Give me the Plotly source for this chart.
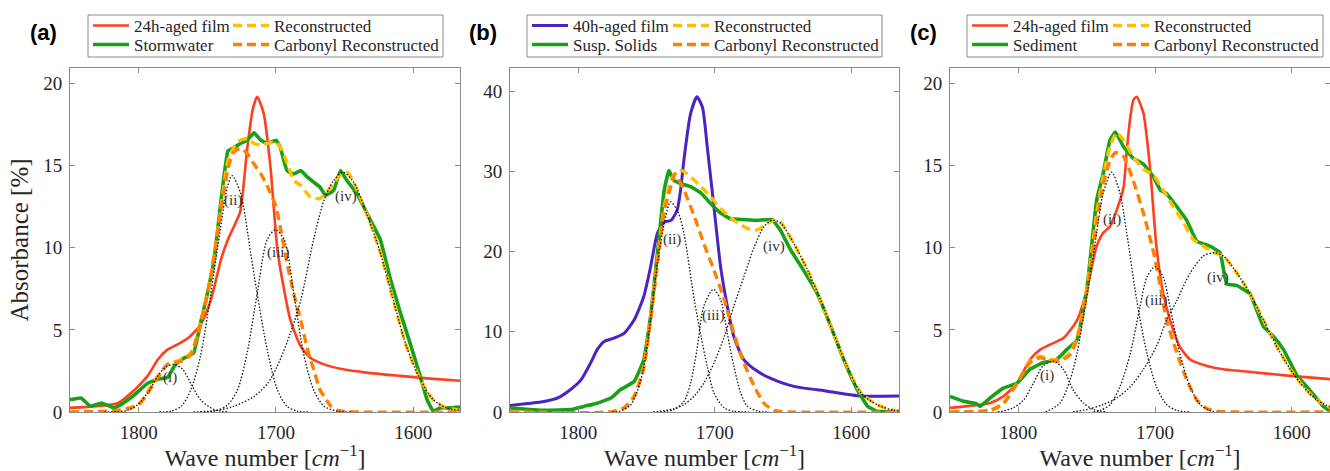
import plotly.graph_objects as go

# ---------------- data ----------------
# Panel (a): 24h-aged film vs Stormwater
a_film_x = [1850, 1815, 1803, 1793.5, 1786, 1779, 1772, 1764, 1755, 1747.5, 1740, 1735, 1730.6, 1726, 1721, 1717, 1713.7, 1709, 1704, 1699, 1694, 1689.5, 1682, 1675, 1665, 1651, 1634, 1609.5, 1590, 1566]
a_film_y = [0.25, 0.55, 1.35, 2.2, 3.2, 3.8, 4.1, 4.5, 5.3, 6.8, 9.3, 10.5, 11.3, 12.2, 16.0, 18.4, 19.2, 18.2, 14.9, 9.9, 7.4, 5.6, 4.0, 3.3, 2.9, 2.6, 2.4, 2.2, 2.05, 1.9]
a_sample_x = [1850, 1842, 1835, 1827, 1818, 1813, 1803, 1793.5, 1786, 1779, 1774, 1769, 1760, 1755, 1750, 1745, 1740, 1735, 1730.6, 1726, 1721, 1716, 1711, 1706, 1700, 1697, 1692, 1687, 1682, 1677, 1672.6, 1668, 1664, 1658, 1653, 1648.4, 1641, 1631.4, 1624, 1617, 1610, 1602.4, 1595, 1590, 1585.5, 1580.6, 1573, 1566]
a_sample_y = [0.75, 0.85, 0.35, 0.55, 0.25, 0.45, 1.05, 1.75, 2.0, 2.1, 2.8, 3.2, 3.6, 5.4, 7.2, 9.3, 12.9, 15.9, 16.1, 16.35, 16.55, 17.0, 16.55, 16.35, 16.55, 16.15, 14.7, 14.5, 14.7, 14.3, 14.0, 13.7, 13.2, 13.5, 14.7, 14.1, 13.3, 11.7, 10.5, 8.2, 6.2, 4.2, 2.2, 0.75, 0.05, 0.25, 0.25, 0.3]
a_recon_x = [1850, 1815, 1800, 1793, 1786, 1779, 1769, 1762, 1755, 1747.6, 1740, 1735, 1730.6, 1726, 1721, 1716, 1711, 1706.4, 1700, 1697, 1692, 1687, 1682, 1675, 1668, 1660, 1653.4, 1648, 1643.5, 1634, 1624, 1614.5, 1605, 1595, 1585.5, 1576, 1566]
a_recon_y = [0, 0.1, 0.45, 1.3, 2.2, 2.9, 3.2, 3.6, 5.4, 8.2, 12.5, 15.3, 16.15, 16.55, 16.65, 16.35, 16.25, 16.35, 16.45, 16.15, 15.2, 14.1, 13.8, 13.1, 13.0, 13.7, 14.4, 14.6, 14.0, 12.1, 9.7, 6.8, 4.0, 2.0, 0.75, 0.25, 0.1]
a_carb_x = [1850, 1815, 1800, 1786, 1779, 1769, 1762, 1755, 1748, 1740, 1735, 1731, 1726, 1721, 1716, 1711, 1706, 1700, 1697, 1692, 1687, 1682, 1677, 1672.6, 1668, 1665, 1660, 1655, 1640, 1566]
a_carb_y = [0, 0.1, 0.45, 2.1, 2.9, 3.1, 3.5, 5.3, 8.0, 12.3, 14.8, 15.8, 16.05, 15.75, 15.1, 14.5, 13.7, 12.5, 11.3, 9.1, 7.2, 5.6, 3.8, 2.6, 1.35, 0.95, 0.35, 0.1, 0, 0]
a_g1_x = [1825, 1808, 1800.7, 1793.5, 1786, 1780, 1774, 1768, 1762, 1755, 1745, 1735]
a_g1_y = [0, 0.1, 0.45, 1.15, 2.2, 2.75, 2.9, 2.6, 1.75, 0.75, 0.15, 0]
a_g2_x = [1785, 1776.5, 1769, 1762, 1755, 1750, 1742.7, 1735.4, 1732, 1725.7, 1718.5, 1713.7, 1706.4, 1699, 1692, 1684.6, 1675]
a_g2_y = [0, 0.05, 0.35, 1.35, 3.4, 5.8, 9.9, 13.7, 14.4, 13.3, 9.7, 7.2, 3.8, 1.35, 0.35, 0.05, 0]
a_g3_x = [1755, 1742.7, 1735, 1728, 1721, 1713.7, 1706.4, 1700.4, 1694, 1687, 1680, 1672.6, 1665, 1655, 1645]
a_g3_y = [0, 0.1, 0.45, 1.35, 3.6, 7.2, 10.5, 11.1, 10.5, 7.2, 3.6, 1.35, 0.35, 0.05, 0]
a_g4_x = [1760, 1742.7, 1730.6, 1716, 1706, 1699, 1689.5, 1682, 1672.6, 1665, 1658, 1651, 1643.5, 1634, 1624, 1614.5, 1605, 1595, 1585.5, 1576, 1566]
a_g4_y = [0, 0.1, 0.35, 0.95, 1.75, 2.8, 4.8, 6.8, 10.5, 12.9, 14.1, 14.6, 14.0, 12.1, 9.7, 6.8, 4.0, 2.0, 0.75, 0.25, 0.1]

# Panel (b): 40h-aged film vs Suspended Solids
b_film_x = [1850, 1837, 1825, 1815, 1805.6, 1798, 1791, 1786, 1781, 1774, 1766.5, 1759, 1752, 1747, 1742, 1737, 1732, 1727.5, 1725, 1722.6, 1717.7, 1713, 1709, 1705.5, 1700.6, 1695.7, 1690.8, 1686, 1678.6, 1669, 1659, 1642, 1617.6, 1593, 1565]
b_film_y = [0.8, 1.05, 1.3, 1.75, 2.8, 4.0, 6.1, 7.8, 8.8, 9.2, 9.8, 11.5, 14.4, 18.1, 22.3, 23.7, 23.9, 25.2, 27.7, 31.4, 37.2, 39.3, 38.0, 33.1, 25.6, 18.1, 13.2, 9.4, 6.5, 5.1, 4.2, 3.2, 2.6, 2.0, 2.0]
b_sample_x = [1850, 1825, 1805.6, 1796, 1786, 1776, 1769, 1759, 1752, 1747, 1742, 1737, 1733.6, 1730, 1725, 1717.7, 1710, 1703, 1695.7, 1688.4, 1678.6, 1669, 1658, 1652, 1644.4, 1635, 1625, 1615, 1605.4, 1595.6, 1588, 1581, 1565]
b_sample_y = [0.5, 0.2, 0.3, 0.7, 1.1, 1.75, 2.8, 3.8, 6.5, 11.9, 19.8, 27.7, 30.1, 28.9, 28.5, 28.1, 27.3, 26.0, 24.8, 24.1, 24.0, 23.9, 24.0, 22.7, 20.2, 17.7, 14.8, 10.7, 6.5, 2.8, 0.7, 0.1, 0.05]
b_recon_x = [1850, 1776, 1766.5, 1759, 1752, 1747, 1742, 1737, 1732, 1727.5, 1722.6, 1715, 1705.5, 1695.7, 1686, 1676, 1669, 1661.5, 1656.7, 1652, 1642, 1632, 1622.5, 1613, 1603, 1593, 1581, 1569, 1565]
b_recon_y = [0, 0, 0.5, 1.95, 5.7, 11.9, 19.0, 25.6, 28.9, 30.1, 30.0, 28.9, 27.3, 25.4, 23.9, 22.9, 22.7, 23.5, 23.9, 23.7, 21.0, 17.7, 14.0, 9.8, 5.7, 2.4, 0.9, 0.2, 0.1]
b_carb_x = [1850, 1776, 1766.5, 1759, 1752, 1747, 1742, 1737, 1732, 1729, 1722.6, 1715, 1708, 1700.6, 1693, 1686, 1678.6, 1671, 1664, 1656.7, 1645, 1565]
b_carb_y = [0, 0, 0.5, 1.95, 5.5, 11.5, 18.5, 25.0, 28.2, 29.7, 27.7, 24.4, 21.0, 17.7, 14.0, 9.8, 6.1, 3.2, 1.1, 0.2, 0, 0]
b_g2_x = [1775, 1770, 1762, 1757, 1752, 1747, 1742, 1737, 1732.4, 1727, 1722.6, 1715, 1710, 1705.5, 1700.6, 1693, 1686, 1675]
b_g2_y = [0, 0.1, 0.8, 2.5, 5.5, 11.5, 18.5, 23.5, 26.2, 25.0, 22.3, 14.0, 9.4, 5.7, 2.4, 0.5, 0.1, 0]
b_g3_x = [1740, 1730, 1722.6, 1717.7, 1713, 1708, 1701, 1695.7, 1690.8, 1686, 1681, 1676, 1668, 1660]
b_g3_y = [0, 0.3, 1.3, 3.6, 7.8, 13.2, 15.3, 14.0, 9.8, 5.7, 2.4, 0.7, 0.1, 0]
b_g4_x = [1745, 1740, 1730, 1722.6, 1715, 1708, 1700.6, 1693, 1686, 1678.6, 1671, 1664, 1658, 1652, 1642, 1632, 1622.5, 1613, 1603, 1593, 1581, 1569, 1565]
b_g4_y = [0, 0.1, 0.4, 0.9, 2.0, 3.6, 6.1, 9.4, 13.2, 16.9, 20.6, 23.1, 23.9, 23.6, 21.0, 17.7, 14.0, 9.8, 5.7, 2.4, 0.9, 0.2, 0.1]

# Panel (c): 24h-aged film vs Sediment
c_film_x = [1850, 1820.7, 1811, 1801, 1791.5, 1784, 1777, 1767, 1757, 1750, 1742.7, 1738, 1733, 1728, 1723, 1720.7, 1718, 1715.8, 1713.4, 1708.5, 1703.7, 1699, 1694, 1689, 1682, 1674.4, 1662, 1650, 1625.6, 1601, 1572]
c_film_y = [0.25, 0.55, 0.95, 1.75, 3.2, 3.8, 4.1, 4.5, 5.6, 7.4, 10.1, 10.9, 11.3, 12.3, 13.7, 15.9, 18.0, 19.0, 19.2, 18.2, 14.9, 10.1, 7.2, 5.6, 4.0, 3.2, 2.8, 2.6, 2.4, 2.2, 2.0]
c_sample_x = [1850, 1840, 1830.5, 1828, 1820.7, 1811, 1801, 1791.5, 1782, 1772, 1764.6, 1757, 1750, 1742.7, 1738, 1733, 1729, 1723, 1716, 1708.5, 1701, 1696, 1691.5, 1684, 1677, 1669.5, 1659.8, 1652.4, 1647.6, 1640, 1630.5, 1620.7, 1613.4, 1606, 1596, 1587, 1577, 1572]
c_sample_y = [0.95, 0.65, 0.5, 0.35, 0.85, 1.45, 1.75, 2.6, 3.0, 3.2, 3.8, 4.4, 7.4, 12.9, 14.5, 16.55, 17.05, 16.15, 15.45, 15.1, 14.3, 13.5, 13.3, 12.5, 11.7, 10.4, 10.1, 9.7, 7.8, 7.7, 7.2, 5.2, 4.6, 3.8, 2.2, 1.35, 0.35, 0.05]
c_recon_x = [1850, 1820.7, 1811, 1801, 1791.5, 1784, 1777, 1769.5, 1762, 1755, 1747.6, 1742.7, 1738, 1733, 1728, 1723, 1716, 1708.5, 1701, 1694, 1686.6, 1679, 1672, 1664.6, 1657, 1650, 1640, 1630.5, 1620.7, 1611, 1601, 1591.5, 1582, 1572]
c_recon_y = [0, 0.1, 0.55, 1.75, 3.1, 3.4, 3.2, 3.2, 3.6, 5.2, 8.9, 12.1, 14.3, 16.15, 17.0, 16.55, 15.55, 14.8, 14.4, 13.5, 12.5, 11.5, 10.5, 10.1, 9.7, 9.5, 8.45, 7.2, 5.6, 4.0, 2.6, 1.55, 0.75, 0.3]
c_carb_x = [1850, 1820.7, 1811, 1801, 1791.5, 1784, 1777, 1769.5, 1762, 1755, 1747.6, 1742.7, 1738, 1733, 1729, 1723, 1716, 1708.5, 1701, 1696, 1691.5, 1684, 1677, 1669.5, 1662, 1655, 1640, 1572]
c_carb_y = [0, 0.1, 0.5, 1.75, 3.0, 3.3, 3.15, 3.1, 3.5, 5.0, 8.5, 11.5, 13.8, 15.3, 15.8, 15.55, 14.1, 12.1, 9.7, 7.6, 5.6, 3.6, 2.0, 0.75, 0.2, 0.05, 0, 0]
c_g1_x = [1815, 1803.7, 1796, 1789, 1782, 1774.4, 1767, 1760, 1752.4, 1745, 1735]
c_g1_y = [0, 0.25, 0.75, 1.75, 2.8, 3.1, 2.6, 1.35, 0.55, 0.15, 0]
c_g2_x = [1780, 1769.5, 1762, 1757, 1752.4, 1747.6, 1742.7, 1738, 1731.7, 1725.6, 1720.7, 1713.4, 1706, 1699, 1691.5, 1684, 1675]
c_g2_y = [0, 0.55, 2.0, 3.6, 5.8, 8.2, 10.9, 13.3, 14.6, 13.3, 10.9, 6.8, 3.6, 1.55, 0.45, 0.1, 0]
c_g3_x = [1745, 1740, 1733, 1725.6, 1718, 1711, 1706, 1700, 1694, 1689, 1682, 1674.4, 1667, 1660, 1655]
c_g3_y = [0, 0.1, 0.45, 1.55, 3.6, 6.4, 8.2, 8.85, 8.2, 6.4, 3.6, 1.55, 0.45, 0.1, 0]
c_g4_x = [1760, 1747.6, 1738, 1728, 1718, 1708.5, 1699, 1691.5, 1684, 1674.4, 1664.6, 1657, 1650, 1640, 1630.5, 1620.7, 1611, 1601, 1591.5, 1582, 1572]
c_g4_y = [0, 0.2, 0.45, 0.85, 1.55, 2.6, 4.0, 5.6, 6.8, 8.45, 9.5, 9.7, 9.5, 8.45, 7.2, 5.6, 4.0, 2.6, 1.55, 0.75, 0.3]

panel_letters = ["(a)", "(b)", "(c)"]
film_names = ["24h-aged film", "40h-aged film", "24h-aged film"]
sample_names = ["Stormwater", "Susp. Solids", "Sediment"]
recon_name = "Reconstructed"
carb_name = "Carbonyl Reconstructed"
x_ticks = [1800, 1700, 1600]
y_ticks = [[0, 5, 10, 15, 20], [0, 10, 20, 30, 40], [0, 5, 10, 15, 20]]
y_tops = [20.95, 42.9, 20.95]
x_ranges = [[1850, 1566], [1850, 1565], [1850, 1572]]
# component labels: (text, wavenumber, absorbance)
comp_labels = [
    [("(i)", 1777, 2.1), ("(ii)", 1731.3, 12.9), ("(iii)", 1698, 9.7), ("(iv)", 1649, 13.1)],
    [("(ii)", 1731, 21.5), ("(iii)", 1700.6, 12.0), ("(iv)", 1656.7, 20.7)],
    [("(i)", 1778.8, 2.2), ("(ii)", 1731.7, 11.7), ("(iii)", 1698.8, 6.8), ("(iv)", 1654.1, 8.2)],
]

panels = [
    dict(film=(a_film_x, a_film_y), sample=(a_sample_x, a_sample_y), recon=(a_recon_x, a_recon_y),
         carb=(a_carb_x, a_carb_y), comps=[(a_g1_x, a_g1_y), (a_g2_x, a_g2_y), (a_g3_x, a_g3_y), (a_g4_x, a_g4_y)]),
    dict(film=(b_film_x, b_film_y), sample=(b_sample_x, b_sample_y), recon=(b_recon_x, b_recon_y),
         carb=(b_carb_x, b_carb_y), comps=[(b_g2_x, b_g2_y), (b_g3_x, b_g3_y), (b_g4_x, b_g4_y)]),
    dict(film=(c_film_x, c_film_y), sample=(c_sample_x, c_sample_y), recon=(c_recon_x, c_recon_y),
         carb=(c_carb_x, c_carb_y), comps=[(c_g1_x, c_g1_y), (c_g2_x, c_g2_y), (c_g3_x, c_g3_y), (c_g4_x, c_g4_y)]),
]

# ---------------- styling ----------------
W, H = 1330, 471
ML, MR, MT, MB = 70, 0, 68, 59
PW = W - ML - MR
PH = H - MT - MB
RED = "#ff3f1f"
PURPLE = "#4b22c4"
GREEN = "#18a018"
YELLOW = "#ffbf00"
ORANGE = "#ff8000"
SERIF = "Liberation Serif, DejaVu Serif, Times New Roman, serif"
TXT = "#262626"
AX = "#8a8a8a"
film_colors = [RED, PURPLE, RED]
film_widths = [2.6, 3.0, 2.6]

# panel pixel geometry
px_left = [70, 510, 950]
px_right = [460, 899, 1330]
legend_box = [(88, 443), (527, 882), (967, 1323)]
legend_col1 = [88, 527, 967]
legend_col2 = [228, 668, 1108]
legend_rows = [26, 45]


def px2paper_x(px):
    return (px - ML) / PW


def px2paper_y(py):
    return (H - MB - py) / PH


fig = go.Figure()
layout = dict(
    width=W, height=H, margin=dict(l=ML, r=MR, t=MT, b=MB),
    paper_bgcolor="white", plot_bgcolor="white",
    font=dict(family=SERIF, color=TXT),
    shapes=[], annotations=[],
)

leg_count = [0]


def new_legend(px_x, px_y):
    leg_count[0] += 1
    n = leg_count[0]
    name = "legend" if n == 1 else "legend" + str(n)
    layout[name] = dict(x=px2paper_x(px_x), y=px2paper_y(px_y), xanchor="left", yanchor="middle",
                        orientation="v", bgcolor="rgba(0,0,0,0)", borderwidth=0,
                        font=dict(family=SERIF, size=17, color=TXT), itemwidth=36,
                        tracegroupgap=0)
    return name


for i, p in enumerate(panels):
    k = "" if i == 0 else str(i + 1)
    xa, ya = "x" + k, "y" + k
    c1, c2 = legend_col1[i], legend_col2[i]
    r1, r2 = legend_rows

    fig.add_trace(go.Scatter(x=p["film"][0], y=p["film"][1], name=film_names[i], mode="lines",
                             line=dict(color=film_colors[i], width=film_widths[i], shape="spline", smoothing=0.6),
                             xaxis=xa, yaxis=ya, legend=new_legend(c1, r1)))
    fig.add_trace(go.Scatter(x=p["sample"][0], y=p["sample"][1], name=sample_names[i], mode="lines",
                             line=dict(color=GREEN, width=3.6, shape="spline", smoothing=0.3),
                             xaxis=xa, yaxis=ya, legend=new_legend(c1, r2)))
    fig.add_trace(go.Scatter(x=p["recon"][0], y=p["recon"][1], name=recon_name, mode="lines",
                             line=dict(color=YELLOW, width=3.4, dash="9px,5px", shape="spline", smoothing=0.6),
                             xaxis=xa, yaxis=ya, legend=new_legend(c2, r1)))
    fig.add_trace(go.Scatter(x=p["carb"][0], y=p["carb"][1], name=carb_name, mode="lines",
                             line=dict(color=ORANGE, width=3.4, dash="9px,5px", shape="spline", smoothing=0.6),
                             xaxis=xa, yaxis=ya, legend=new_legend(c2, r2)))
    for cx, cy in p["comps"]:
        fig.add_trace(go.Scatter(x=cx, y=cy, mode="lines", showlegend=False, hoverinfo="skip",
                                 line=dict(color="#111111", width=1.3, dash="1.5px,1.8px", shape="spline", smoothing=0.8),
                                 xaxis=xa, yaxis=ya))

    dom = [px2paper_x(px_left[i]), min(1.0, px2paper_x(px_right[i]))]
    axis_common = dict(showline=True, linecolor=AX, linewidth=1, mirror="ticks", ticks="inside",
                       ticklen=5, tickcolor=AX, tickwidth=1, showgrid=False, zeroline=False,
                       tickfont=dict(family=SERIF, size=19, color=TXT))
    layout["xaxis" + k] = dict(axis_common, domain=dom, range=x_ranges[i], tickmode="array",
                               tickvals=x_ticks, ticklabelstandoff=3, anchor=ya,
                               title=dict(text="Wave number [<i>cm</i><sup>−1</sup>]",
                                          font=dict(family=SERIF, size=24, color=TXT), standoff=5))
    ytitle = dict(text="Absorbance [%]", font=dict(family=SERIF, size=25, color=TXT), standoff=7) if i == 0 else None
    layout["yaxis" + k] = dict(axis_common, domain=[0, 1], range=[0, y_tops[i]], tickmode="array",
                               tickvals=y_ticks[i], ticklabelstandoff=3, anchor=xa,
                               **({"title": ytitle} if ytitle else {}))

    bx0, bx1 = legend_box[i]
    layout["shapes"].append(dict(type="rect", xref="paper", yref="paper",
                                 x0=px2paper_x(bx0), x1=px2paper_x(bx1),
                                 y0=px2paper_y(57), y1=px2paper_y(15),
                                 line=dict(color=AX, width=1), fillcolor="rgba(0,0,0,0)"))
    # panel letter
    layout["annotations"].append(dict(text="<b>" + panel_letters[i] + "</b>", xref="paper", yref="paper",
                                      x=px2paper_x(px_left[i] - 27), y=px2paper_y(32),
                                      xanchor="center", yanchor="middle", showarrow=False,
                                      font=dict(family="Liberation Sans, Arial, sans-serif", size=22, color="black")))
    for txt, wx, wy in comp_labels[i]:
        layout["annotations"].append(dict(text=txt, x=wx, y=wy, xref=xa, yref=ya, showarrow=False,
                                          xanchor="center", yanchor="middle",
                                          font=dict(family=SERIF, size=15, color="#333333")))

fig.update_layout(**layout)
fig.write_html("out.html")
